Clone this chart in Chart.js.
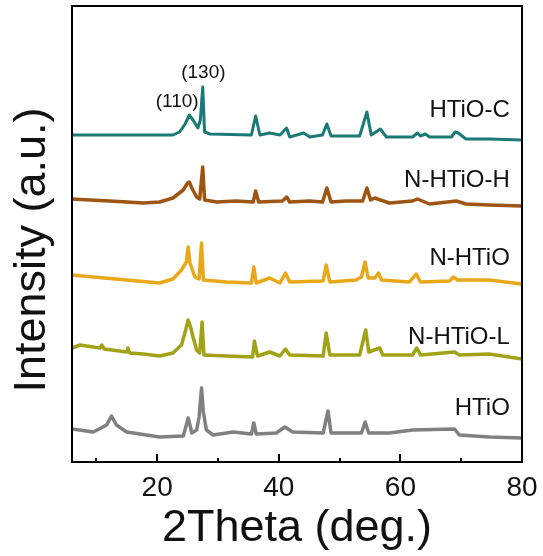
<!DOCTYPE html>
<html>
<head>
<meta charset="utf-8">
<script src="https://cdn.jsdelivr.net/npm/chart.js@4.4.0/dist/chart.umd.min.js"></script>
<style>
    body { margin: 0; background: #fff; }
    canvas { display: block; }
</style>
</head>
<body>
<canvas id="xrdChart" width="543" height="556"></canvas>
<script>
// series names, top to bottom
const sampleNames = ['HTiO-C', 'N-HTiO-H', 'N-HTiO', 'N-HTiO-L', 'HTiO'];

// 2theta (deg) and stacked intensity (a.u., offset already included)
const htioC_theta = [6.0, 12.2, 22.6, 23.7, 24.6, 25.3, 25.9, 26.7, 27.1, 27.5, 27.8, 28.7, 35.5, 36.2, 36.9, 38.5, 40.2, 41.3, 41.8, 44.1, 45.1, 47.2, 47.9, 48.6, 53.3, 54.5, 55.2, 56.7, 57.7, 62.0, 62.8, 63.3, 64.1, 64.8, 68.4, 69.0, 69.5, 70.8, 74.6, 80.0];
const htioC_int   = [327, 327, 327, 330, 338, 347, 342, 334, 342, 375, 330, 328, 327, 346, 327, 329, 327, 334, 325, 329, 325, 327, 338, 326, 326, 350, 327, 333, 325, 325, 329, 326, 328, 325, 325, 330, 329, 323, 323, 322];

const nhtioH_theta = [6.0, 9.0, 12.2, 15.0, 17.7, 20.4, 22.6, 24.3, 25.0, 25.3, 25.7, 26.5, 27.0, 27.5, 27.8, 29.8, 33.0, 35.8, 36.2, 36.7, 40.6, 41.3, 41.8, 45.0, 47.2, 47.9, 48.6, 51.0, 53.8, 54.5, 55.1, 55.8, 56.7, 58.2, 62.0, 62.8, 64.8, 69.2, 70.8, 74.6, 80.0];
const nhtioH_int   = [263, 262, 261, 260, 259, 260, 264, 272, 279, 280, 274, 265, 263, 295, 262, 260, 261, 260, 271, 260, 261, 265, 260, 261, 260, 274, 260, 261, 261, 274, 262, 264, 262, 259, 261, 263, 258, 261, 258, 257, 256];

const nhtio_theta = [6.0, 9.5, 15.0, 20.4, 22.6, 24.0, 24.8, 25.1, 25.4, 26.2, 26.9, 27.3, 27.6, 31.4, 35.5, 35.9, 36.3, 38.5, 40.2, 41.1, 41.8, 47.3, 47.8, 48.4, 52.7, 53.6, 54.2, 54.7, 55.8, 56.4, 56.9, 61.5, 62.6, 63.3, 68.1, 68.7, 69.4, 74.6, 80.0];
const nhtio_int   = [187, 185, 182, 179, 183, 192, 200, 215, 199, 185, 183, 219, 182, 180, 179, 195, 179, 184, 179, 189, 180, 181, 197, 180, 182, 185, 200, 184, 184, 189, 182, 180, 188, 180, 181, 185, 182, 182, 178];

const nhtioL_theta = [6.0, 7.3, 10.6, 10.9, 11.3, 15.0, 15.2, 15.5, 17.7, 20.4, 22.6, 24.0, 24.7, 25.1, 25.5, 25.9, 26.5, 27.0, 27.4, 27.7, 31.4, 35.7, 36.0, 36.5, 38.5, 40.2, 41.1, 41.8, 47.3, 47.8, 48.4, 53.3, 54.3, 54.8, 56.6, 57.1, 62.0, 62.7, 63.3, 68.9, 69.7, 74.6, 80.0];
const nhtioL_int   = [114, 117, 114, 117, 113, 110, 114, 109, 108, 106, 109, 117, 132, 142, 135, 125, 112, 109, 140, 107, 106, 105, 121, 106, 110, 106, 113, 107, 106, 129, 107, 107, 132, 110, 114, 107, 107, 114, 107, 110, 107, 108, 103];

const htio_theta = [6.0, 9.5, 11.7, 12.5, 13.3, 15.0, 20.4, 24.3, 24.8, 25.1, 25.4, 25.7, 26.5, 26.9, 27.3, 27.6, 28.1, 29.2, 32.5, 35.5, 35.9, 36.3, 39.6, 41.0, 42.3, 47.3, 48.1, 48.6, 53.6, 54.2, 54.8, 58.2, 62.0, 68.9, 69.7, 74.6, 80.0];
const htio_int   = [33, 30, 37, 46, 37, 30, 25, 26, 37, 44, 37, 29, 32, 45, 74, 50, 32, 27, 30, 28, 39, 28, 29, 35, 30, 29, 51, 29, 29, 40, 29, 29, 32, 33, 27, 25, 24];

const majorTicks = [20, 40, 60, 80];
const minorTicks = [10, 30, 50, 70];

const lineColors = ['#1b7a77', '#9e5512', '#e8a818', '#a2a216', '#808080'];

const thetaSets = [htioC_theta, nhtioH_theta, nhtio_theta, nhtioL_theta, htio_theta];
const intSets = [htioC_int, nhtioH_int, nhtio_int, nhtioL_int, htio_int];

const datasets = sampleNames.map(function (name, i) {
    return {
        label: name,
        data: thetaSets[i].map(function (t, j) { return { x: t, y: intSets[i][j] }; }),
        borderColor: lineColors[i],
        borderWidth: i === 0 ? 3 : 3.5,
        pointRadius: 0,
        tension: 0,
        borderJoinStyle: 'round'
    };
});

// labels on the right of each trace and the two peak indices
const traceLabels = [
    { text: 'HTiO-C', x: 78, y: 352 },
    { text: 'N-HTiO-H', x: 78, y: 282 },
    { text: 'N-HTiO', x: 78, y: 204 },
    { text: 'N-HTiO-L', x: 78, y: 125 },
    { text: 'HTiO', x: 78, y: 54 }
];
const peakLabels = [
    { text: '(130)', x: 27.6, y: 389 },
    { text: '(110)', x: 23.3, y: 360 }
];

const fontFam = '"Liberation Sans", Arial, sans-serif';

const framePlugin = {
    id: 'frame',
    afterDraw(chart) {
        const c = chart.ctx;
        const a = chart.chartArea;
        const xs = chart.scales.x;
        const ys = chart.scales.y;
        c.save();
        c.strokeStyle = '#000';
        c.lineWidth = 2;
        c.strokeRect(a.left, a.top, a.right - a.left, a.bottom - a.top);
        // inward ticks on the bottom axis
        majorTicks.forEach(function (v) {
            const px = Math.round(xs.getPixelForValue(v));
            c.beginPath(); c.moveTo(px, a.bottom); c.lineTo(px, a.bottom - 8); c.stroke();
        });
        minorTicks.forEach(function (v) {
            const px = Math.round(xs.getPixelForValue(v));
            c.beginPath(); c.moveTo(px, a.bottom); c.lineTo(px, a.bottom - 4); c.stroke();
        });
        c.fillStyle = '#111';
        c.textBaseline = 'middle';
        c.textAlign = 'right';
        c.font = '24px ' + fontFam;
        traceLabels.forEach(function (l) {
            c.fillText(l.text, xs.getPixelForValue(l.x), ys.getPixelForValue(l.y));
        });
        c.textAlign = 'center';
        c.font = '19px ' + fontFam;
        peakLabels.forEach(function (l) {
            c.fillText(l.text, xs.getPixelForValue(l.x), ys.getPixelForValue(l.y));
        });
        // axis titles
        c.font = '45px ' + fontFam;
        c.fillText('2Theta (deg.)', (a.left + a.right) / 2, 529);
        c.translate(33, 250);
        c.rotate(-Math.PI / 2);
        c.fillText('Intensity (a.u.)', 0, 0);
        c.restore();
    }
};

const ctx = document.getElementById('xrdChart').getContext('2d');
const xrdChart = new Chart(ctx, {
    type: 'line',
    data: { datasets: datasets },
    plugins: [framePlugin],
    options: {
        responsive: false,
        animation: false,
        devicePixelRatio: 1,
        layout: { padding: { top: 6, right: 21, left: 0, bottom: 0 } },
        plugins: { legend: { display: false }, tooltip: { enabled: false } },
        scales: {
            x: {
                type: 'linear',
                min: 6,
                max: 80,
                afterBuildTicks: function (s) { s.ticks = majorTicks.map(function (v) { return { value: v }; }); },
                afterFit: function (s) { s.height = 94; },
                grid: { display: false },
                border: { display: false },
                ticks: { color: '#111', font: { family: fontFam, size: 28 }, padding: 1, maxRotation: 0 }
            },
            y: {
                min: 0,
                max: 456,
                afterFit: function (s) { s.width = 72; },
                grid: { display: false },
                border: { display: false },
                ticks: { display: false }
            }
        }
    }
});
</script>
</body>
</html>
